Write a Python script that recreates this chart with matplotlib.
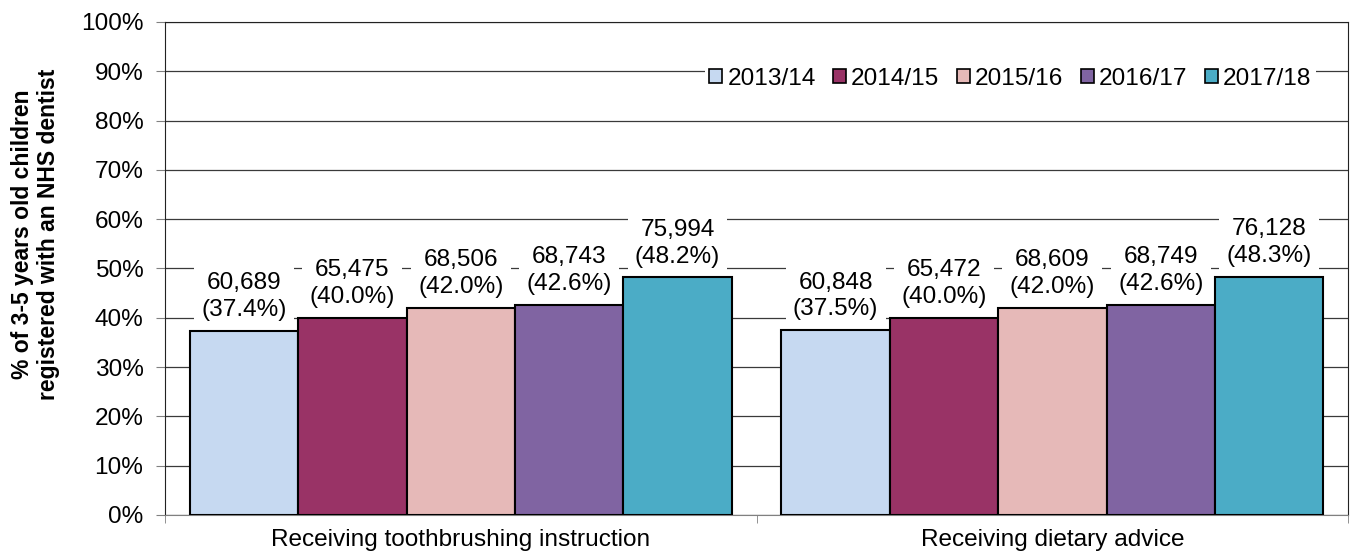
import matplotlib

matplotlib.use("Agg")
import matplotlib.pyplot as plt
import numpy as np

plt.rcParams["font.family"] = ["Liberation Sans", "DejaVu Sans"]

categories = ["Receiving toothbrushing instruction", "Receiving dietary advice"]
years = ["2013/14", "2014/15", "2015/16", "2016/17", "2017/18"]
colors = ["#C6D9F1", "#993366", "#E6B9B8", "#8064A2", "#4BACC6"]

counts = [
    [60689, 60848],
    [65475, 65472],
    [68506, 68609],
    [68743, 68749],
    [75994, 76128],
]
pcts = [
    [37.4, 37.5],
    [40.0, 40.0],
    [42.0, 42.0],
    [42.6, 42.6],
    [48.2, 48.3],
]

FS = 17.6

fig = plt.figure(figsize=(13.59, 5.55), dpi=100)
ax = fig.add_axes([0.1214, 0.0721, 0.8706, 0.8883])

x = np.arange(len(categories))
width = 0.916 / len(years)
for i, (yr, col) in enumerate(zip(years, colors)):
    pos = x + (i - 2) * width
    ax.bar(pos, pcts[i], width, color=col, edgecolor="black", linewidth=1.5,
           label=yr, zorder=3)
    for px, c, p in zip(pos, counts[i], pcts[i]):
        ax.annotate(f"{c:,}\n({p:.1f}%)", xy=(px, p), xytext=(0, 7),
                    textcoords="offset points", ha="center", va="bottom",
                    fontsize=FS, linespacing=1.28, zorder=4,
                    bbox=dict(boxstyle="square,pad=0.3", fc="white", ec="none"))

ax.set_ylim(0, 100)
ax.set_yticks(range(0, 101, 10))
ax.set_yticklabels([f"{v}%" for v in range(0, 101, 10)], fontsize=FS)
ax.yaxis.grid(True, color="#3a3a3a", linewidth=0.9, zorder=0)
ax.set_axisbelow(True)

ax.set_xlim(-0.5, 1.5)
ax.set_xticks(x)
ax.set_xticklabels(categories, fontsize=FS)
ax.tick_params(axis="x", which="major", length=0, pad=10)
ax.set_xticks([-0.5, 0.5, 1.5], minor=True)
ax.tick_params(axis="x", which="minor", length=5.5, color="#808080")
ax.tick_params(axis="y", length=6.5, color="#808080", pad=9)

for s in ["left", "right", "top"]:
    ax.spines[s].set_color("#222222")
ax.spines["bottom"].set_color("#808080")

ax.set_ylabel("% of 3-5 years old children\nregistered with an NHS dentist",
              fontsize=16.5, fontweight="bold", va="center", linespacing=1.12)
ax.yaxis.set_label_coords(-0.1095, 0.57)

leg = ax.legend(loc="center right", bbox_to_anchor=(0.983, 0.885), ncol=5,
                fontsize=FS, frameon=True, framealpha=1, edgecolor="none",
                fancybox=False, handlelength=0.53, handleheight=0.53,
                handletextpad=0.2, columnspacing=0.72, borderpad=0.2)
for h in leg.legend_handles:
    h.set_linewidth(1.2)

fig.savefig("out.png", dpi=100)
